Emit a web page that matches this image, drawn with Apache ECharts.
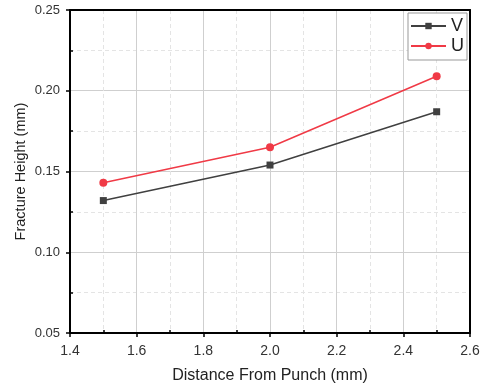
<!DOCTYPE html>
<html><head><meta charset="utf-8">
<script src="https://cdn.jsdelivr.net/npm/echarts@6/dist/echarts.min.js"></script>
<style>html,body{margin:0;padding:0;background:#fff}#c{width:487px;height:386px}</style>
</head><body><div id="c"></div>
<script>
const distances = [1.5, 2.0, 2.5];
const seriesV = [0.132, 0.154, 0.187];
const seriesU = [0.143, 0.165, 0.209];
const seriesNames = ['V', 'U'];

const font = '"Liberation Sans", Arial, sans-serif';
const chart = echarts.init(document.getElementById('c'));
const minorGrid = {show: true, lineStyle: {color: '#e4e4e4', type: [4, 3], width: 1}};
chart.setOption({
  animation: false,
  grid: {left: 70, right: 17, top: 10, bottom: 53, outerBoundsMode: 'none', containLabel: false},
  legend: {
    right: 20, top: 13, orient: 'vertical', itemGap: 2,
    itemWidth: 35, itemHeight: 8,
    backgroundColor: '#fff',
    borderColor: '#999', borderWidth: 1, borderRadius: 0, padding: [4, 3, 5, 2],
    textStyle: {fontFamily: font, fontSize: 18, color: '#222', lineHeight: 18},
    data: seriesNames
  },
  xAxis: [
    {type: 'value', min: 1.4, max: 2.6, interval: 0.2,
     name: 'Distance From Punch (mm)', nameLocation: 'middle', nameGap: 35, nameMoveOverlap: false,
     nameTextStyle: {fontFamily: font, fontSize: 16, color: '#222'},
     axisLine: {show: true, onZero: false, lineStyle: {color: '#000', width: 2}},
     axisTick: {show: true, length: 4, lineStyle: {color: '#000', width: 1.5}},
     axisLabel: {fontFamily: font, fontSize: 14, color: '#333', margin: 11, formatter: v => v.toFixed(1)},
     splitLine: {show: true, lineStyle: {color: '#cfcfcf', width: 1}}},
    {type: 'value', min: 1.4, max: 2.6, interval: 0.2, position: 'bottom',
     axisLine: {show: false}, axisTick: {show: false, inside: true}, axisLabel: {show: false},
     minorTick: {show: true, splitNumber: 2, length: 3, lineStyle: {color: '#000', width: 1.5}},
     splitLine: {show: false}, minorSplitLine: minorGrid},
    {type: 'value', min: 1.4, max: 2.6, position: 'top',
     axisLine: {show: true, onZero: false, lineStyle: {color: '#000', width: 2}},
     axisTick: {show: false}, axisLabel: {show: false}, splitLine: {show: false}}
  ],
  yAxis: [
    {type: 'value', min: 0.05, max: 0.25, interval: 0.05,
     name: 'Fracture Height (mm)', nameLocation: 'middle', nameGap: 42, nameMoveOverlap: false,
     nameTextStyle: {fontFamily: font, fontSize: 14.5, color: '#222'},
     axisLine: {show: true, onZero: false, lineStyle: {color: '#000', width: 2}},
     axisTick: {show: true, length: 4, lineStyle: {color: '#000', width: 1.5}},
     axisLabel: {fontFamily: font, fontSize: 13, color: '#333', margin: 10, formatter: v => v.toFixed(2)},
     splitLine: {show: true, lineStyle: {color: '#cfcfcf', width: 1}}},
    {type: 'value', min: 0.05, max: 0.25, interval: 0.05, position: 'left',
     axisLine: {show: false}, axisTick: {show: false, inside: true}, axisLabel: {show: false},
     minorTick: {show: true, splitNumber: 2, length: 3, lineStyle: {color: '#000', width: 1.5}},
     splitLine: {show: false}, minorSplitLine: minorGrid},
    {type: 'value', min: 0.05, max: 0.25, position: 'right',
     axisLine: {show: true, onZero: false, lineStyle: {color: '#000', width: 2}},
     axisTick: {show: false}, axisLabel: {show: false}, splitLine: {show: false}}
  ],
  series: [
    {name: seriesNames[0], type: 'line', data: distances.map((d, i) => [d, seriesV[i]]),
     symbol: 'rect', symbolSize: 7, color: '#404040', lineStyle: {width: 1.5, color: '#404040'},
     itemStyle: {color: '#404040'}},
    {name: seriesNames[1], type: 'line', data: distances.map((d, i) => [d, seriesU[i]]),
     symbol: 'circle', symbolSize: 8, color: '#f03a46', lineStyle: {width: 1.5, color: '#f03a46'},
     itemStyle: {color: '#f03a46'}}
  ]
});
</script></body></html>
